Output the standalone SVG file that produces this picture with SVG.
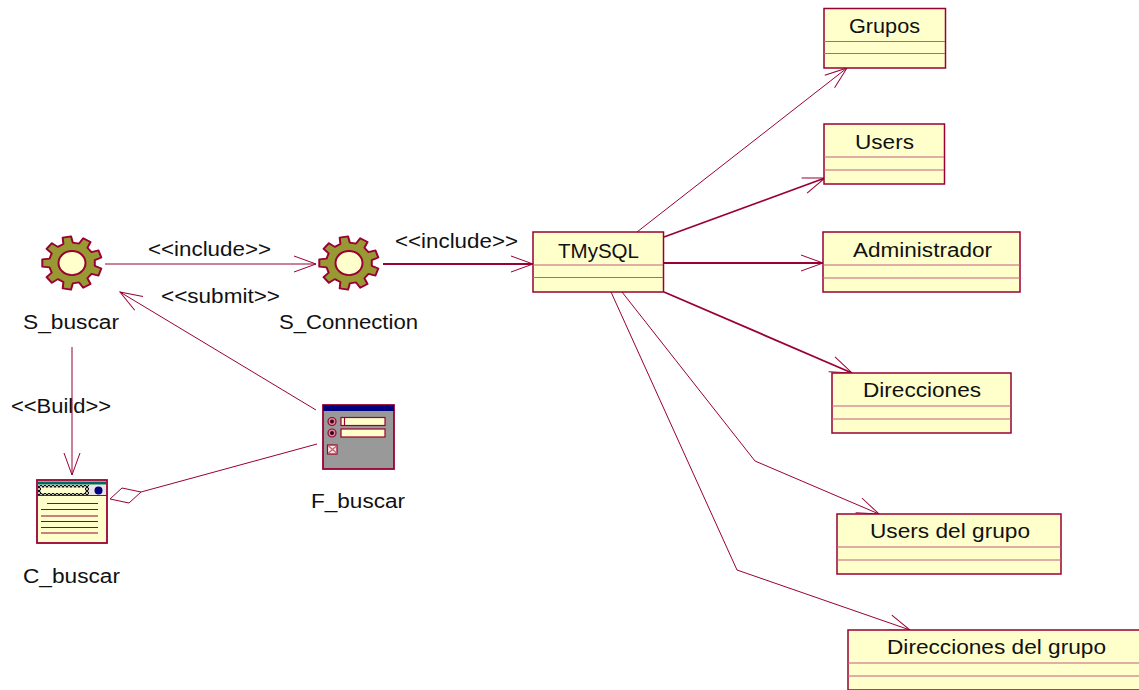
<svg xmlns="http://www.w3.org/2000/svg" width="1139" height="690" viewBox="0 0 1139 690">
<style>
text{font-family:"Liberation Sans",Arial,sans-serif;font-size:19.5px;fill:#111}
.c{fill:#ffffcc;stroke:#990033;stroke-width:1.5}
.s{stroke:#c0607f;stroke-width:1.2;fill:none}
.d{stroke:#990033;stroke-width:1.2;fill:none}
.l{fill:none;stroke:#990033;stroke-width:1}
.t{stroke-width:1.8}
.a{marker-end:url(#open)}
.g{fill:#999933;stroke:#990033;stroke-width:2;stroke-linejoin:round}
.h{fill:#ffffcc;stroke:#990033;stroke-width:2}
</style>
<defs>
<marker id="open" markerUnits="userSpaceOnUse" markerWidth="30" markerHeight="24" refX="24" refY="12" orient="auto" overflow="visible">
<path d="M2,4 L24,12 L2,20" fill="none" stroke="#990033" stroke-width="1"/>
</marker>
<pattern id="grid" width="4" height="4" patternUnits="userSpaceOnUse">
<rect width="4" height="4" fill="#bbb"/><rect width="2" height="2" fill="#111"/><rect x="2" y="2" width="2" height="2" fill="#111"/>
</pattern>
<g id="gear" transform="scale(1,.89)">
<polygon class="g" points="-8.6,-21.3 -9.3,-28.5 -1,-30 .8,-23 7.1,-21.9 11.2,-27.8 18.5,-23.6 15.4,-17.1 19.5,-12.2 26.5,-14.1 29.3,-6.2 22.8,-3.2 22.8,3.2 29.3,6.2 26.5,14.1 19.5,12.2 15.4,17.1 18.5,23.6 11.2,27.8 7.1,21.9 .8,23 -1,30 -9.3,28.5 -8.6,21.3 -14.2,18.1 -20.1,22.3 -25.4,15.9 -20.3,10.8 -22.5,4.8 -29.7,4.2 -29.7,-4.2 -22.5,-4.8 -20.3,-10.8 -25.4,-15.9 -20.1,-22.3 -14.2,-18.1"/>
<circle class="h" r="13.5"/>
</g>
</defs>
<rect width="1139" height="690" fill="#fff"/>
<g id="connectors">
<path class="l a" d="M105,264H316"/>
<path class="l t a" d="M383,264H533"/>
<path class="l a" d="M316,410L120,292"/>
<path class="l a" d="M72,347V475"/>
<path class="l" d="M141,492L317,444"/>
<polygon class="l" points="110,499 122,488 141,492 129,503"/>
<path class="l a" d="M637,232L847,68"/>
<path class="l t a" d="M664,237L825,178"/>
<path class="l t a" d="M664,263H823"/>
<path class="l t a" d="M664,292L852,373"/>
<path class="l a" d="M622,292L755,461L879,514"/>
<path class="l a" d="M611,292L737,570L910,630"/>
</g>
<g id="S_buscar"><use href="#gear" x="72" y="263"/><text x="23" y="329" textLength="96" lengthAdjust="spacingAndGlyphs">S_buscar</text></g>
<g id="S_Connection"><use href="#gear" x="349" y="263"/><text x="279" y="329" textLength="139" lengthAdjust="spacingAndGlyphs">S_Connection</text></g>
<g id="C_buscar">
<rect x="37" y="480" width="70" height="63" fill="#ffffcc" stroke="#990033" stroke-width="1.8"/>
<rect x="38" y="481.5" width="68" height="3" fill="#006666"/>
<rect x="38" y="485" width="51" height="10" fill="url(#grid)"/>
<rect x="41" y="487.5" width="44" height="5.5" fill="#ffffcc"/>
<rect x="89" y="485" width="17" height="10" fill="#e8e4e8"/>
<circle cx="98.500" cy="490.500" r="4" fill="#000080"/>
<path d="M37,495.500H107" class="d"/>
<path d="M47,503.500H98M41,509.500H98M41,516H98M41,521.500H98M41,527.500H98M41,533H98" class="d"/>
<text x="23" y="583" textLength="97" lengthAdjust="spacingAndGlyphs">C_buscar</text>
</g>
<g id="F_buscar">
<rect x="323" y="405" width="71" height="64" fill="#999999" stroke="#990033" stroke-width="1.8"/>
<rect x="323" y="405" width="71" height="6" fill="#000080"/>
<circle cx="332" cy="421.500" r="4" fill="#dd8899" stroke="#990033" stroke-width="1.2"/><circle cx="332" cy="421.500" r="2" fill="#330022"/>
<circle cx="332" cy="433" r="4" fill="#dd8899" stroke="#990033" stroke-width="1.2"/><circle cx="332" cy="433" r="2" fill="#330022"/>
<rect x="341" y="417.500" width="44" height="8" fill="#ffffcc" stroke="#990033" stroke-width="1.2"/>
<path d="M344.500,418V425" class="d"/>
<rect x="341" y="429" width="44" height="8" fill="#ffffcc" stroke="#990033" stroke-width="1.2"/>
<rect x="327.500" y="445" width="9.500" height="9" fill="#ffe8d8" stroke="#990033" stroke-width="1.2"/>
<path d="M328,445.500L337,453.500M337,445.500L328,453.500" class="s"/>
<text x="311" y="508" textLength="94" lengthAdjust="spacingAndGlyphs">F_buscar</text>
</g>
<g id="TMySQL"><rect class="c" x="533" y="232" width="130.500" height="60"/><path class="s" d="M533,265H663M533,277.500H663"/><text x="558" y="258" textLength="81" lengthAdjust="spacingAndGlyphs">TMySQL</text></g>
<g id="Grupos"><rect class="c" x="824" y="8.500" width="121.500" height="59.500"/><path class="s" d="M824,41.500H945M824,53.500H945"/><text x="849" y="33" textLength="71" lengthAdjust="spacingAndGlyphs">Grupos</text></g>
<g id="Users"><rect class="c" x="824" y="124" width="120.500" height="60"/><path class="s" d="M824,157H944M824,170H944"/><text x="855" y="149" textLength="59" lengthAdjust="spacingAndGlyphs">Users</text></g>
<g id="Administrador"><rect class="c" x="823" y="232" width="197" height="60"/><path class="s" d="M823,265H1020M823,278H1020"/><text x="853" y="257" textLength="139" lengthAdjust="spacingAndGlyphs">Administrador</text></g>
<g id="Direcciones"><rect class="c" x="832" y="373" width="179" height="60"/><path class="s" d="M832,406H1011M832,419H1011"/><text x="863" y="397" textLength="118" lengthAdjust="spacingAndGlyphs">Direcciones</text></g>
<g id="UsersDelGrupo"><rect class="c" x="837" y="514" width="224" height="60"/><path class="s" d="M837,547H1061M837,560H1061"/><text x="870" y="538" textLength="160" lengthAdjust="spacingAndGlyphs">Users del grupo</text></g>
<g id="DireccionesDelGrupo"><rect class="c" x="848" y="630" width="292" height="60"/><path class="s" d="M848,663H1139M848,676H1139"/><text x="887" y="654" textLength="219" lengthAdjust="spacingAndGlyphs">Direcciones del grupo</text></g>
<g id="labels">
<text x="148" y="256" textLength="123" lengthAdjust="spacingAndGlyphs">&lt;&lt;include&gt;&gt;</text>
<text x="395" y="248" textLength="123" lengthAdjust="spacingAndGlyphs">&lt;&lt;include&gt;&gt;</text>
<text x="161" y="303" textLength="119" lengthAdjust="spacingAndGlyphs">&lt;&lt;submit&gt;&gt;</text>
<text x="11" y="413" textLength="100" lengthAdjust="spacingAndGlyphs">&lt;&lt;Build&gt;&gt;</text>
</g>
</svg>
